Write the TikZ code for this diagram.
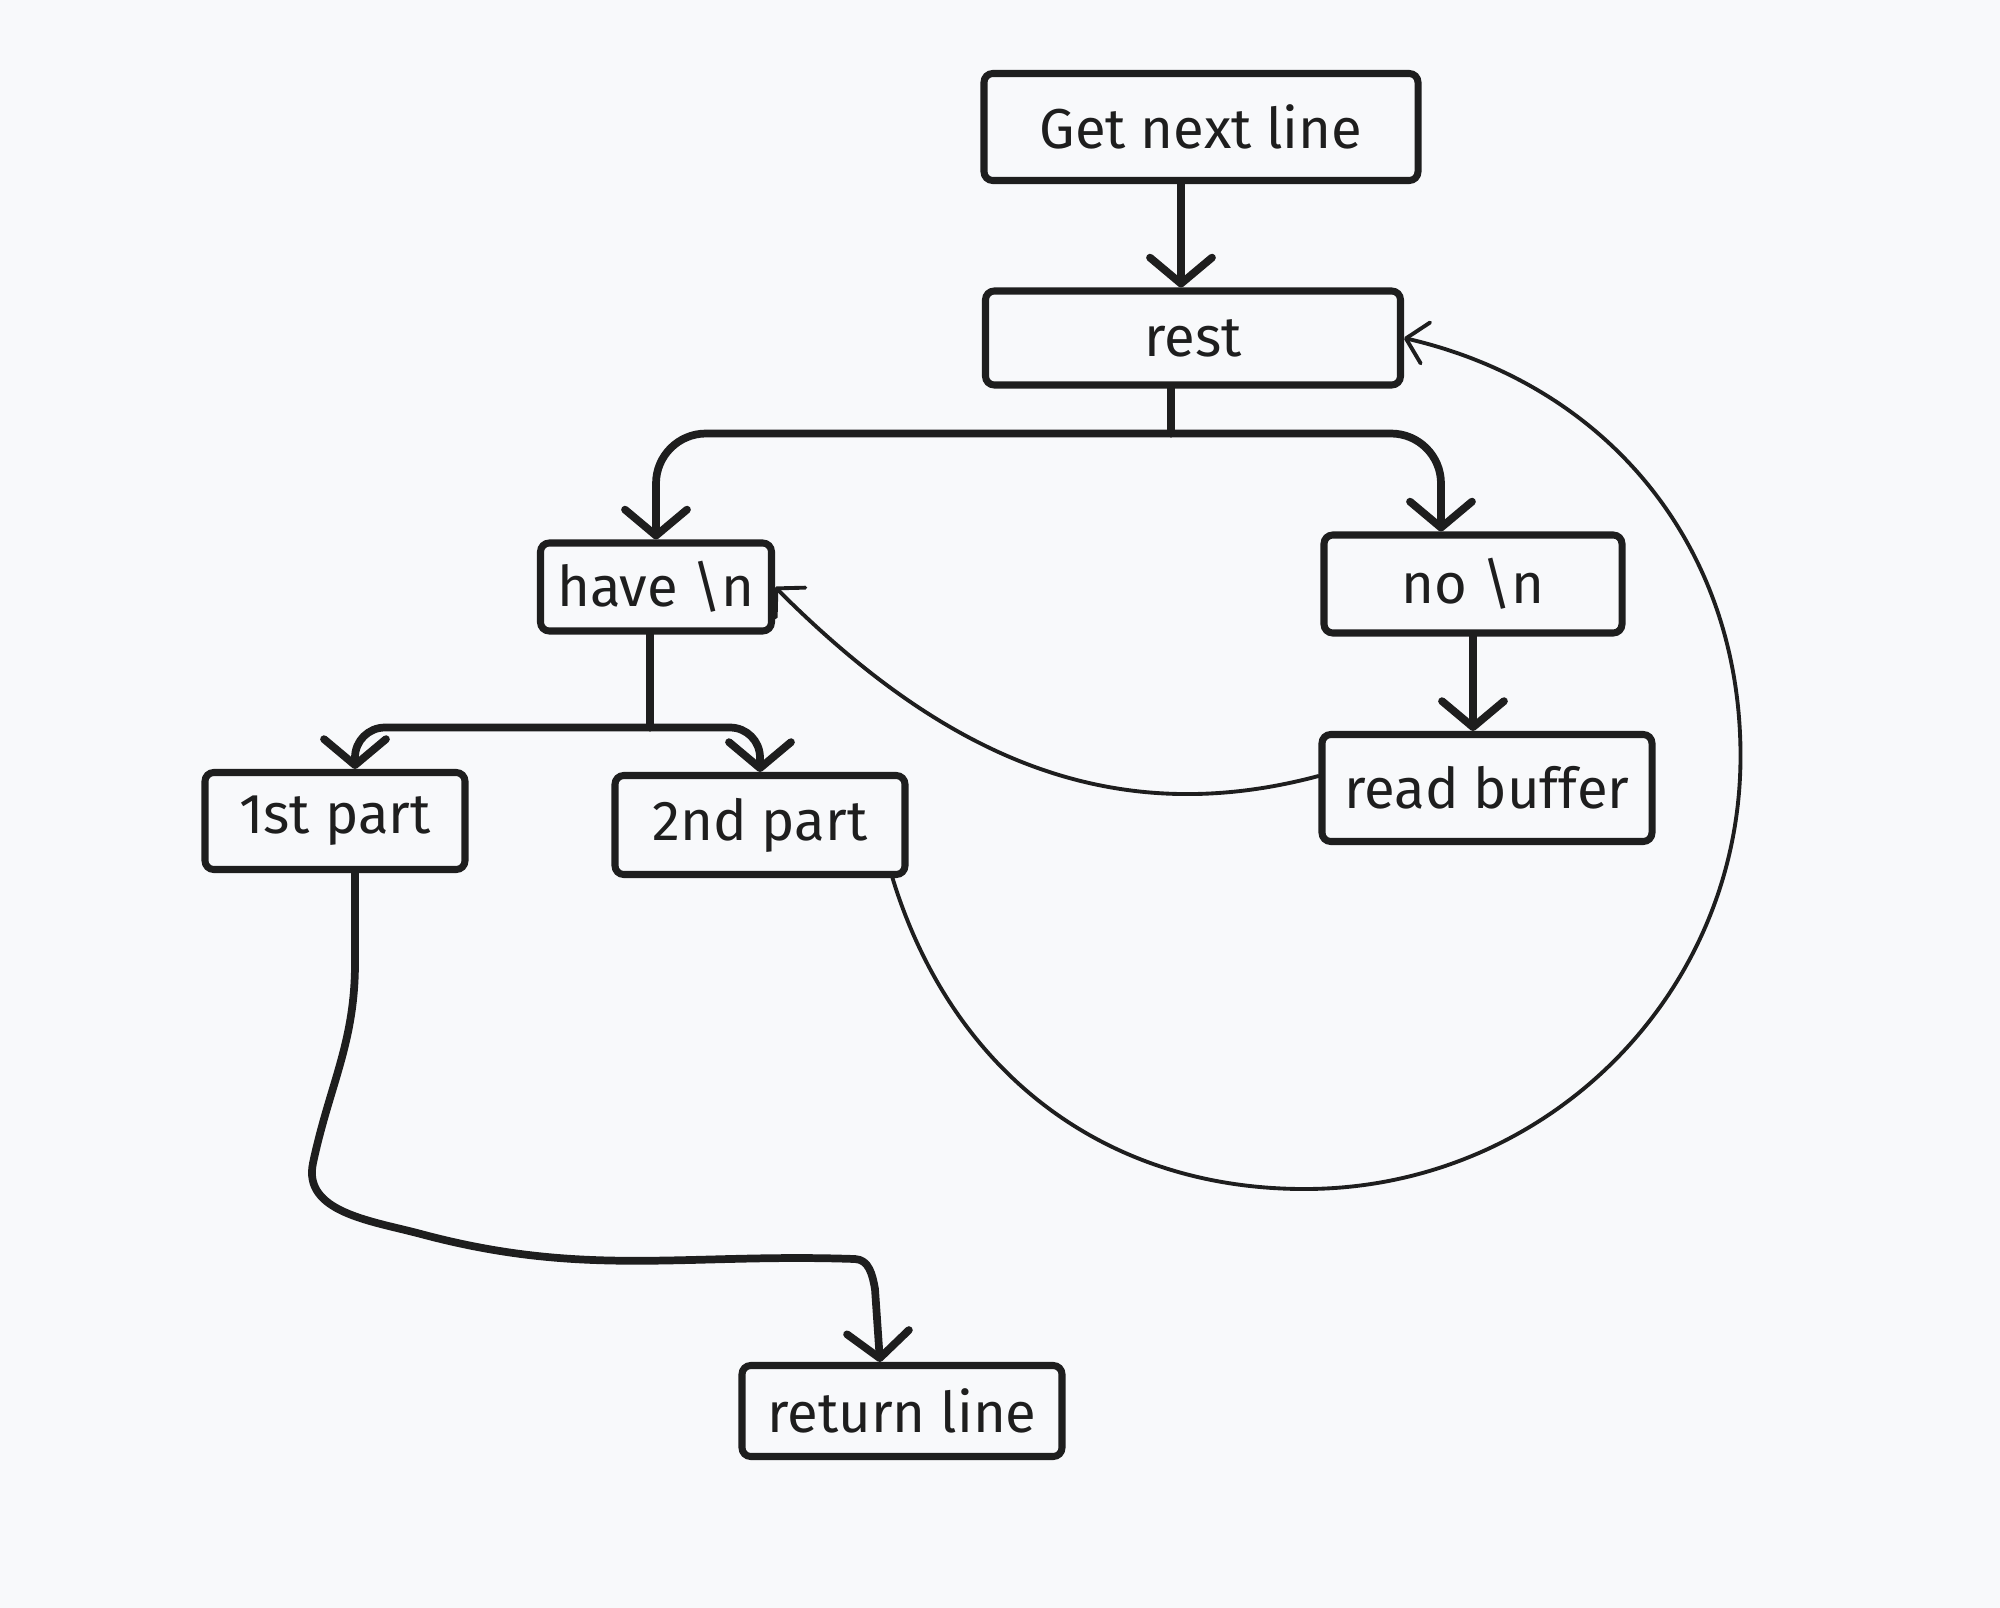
\documentclass[tikz,border=0pt]{standalone}
\usepackage{fontspec}
\setmainfont{Fira Sans}
\usepackage{tikz}
\usetikzlibrary{arrows.meta}
\definecolor{inkcol}{HTML}{1E1E1E}
\definecolor{paper}{HTML}{F8F9FB}
\tikzset{
  stepbox/.style={draw=inkcol, line width=2pt, rounded corners=2.5pt, align=center, text=inkcol, font=\fontsize{16}{19}\selectfont, inner sep=0pt},
  boldarrow/.style={draw=inkcol, line width=2.2pt, line cap=round, line join=round, -{Straight Barb[length=0.26cm, width=0.62cm, round]}},
  boldline/.style={draw=inkcol, line width=2.2pt, line cap=round, line join=round},
  thinarrow/.style={draw=inkcol, line width=1.1pt, line cap=round, -{Straight Barb[length=0.2cm, width=0.42cm, round]}}
}
\begin{document}
\begin{tikzpicture}

% Background and margins
\fill[paper] (0,0) rectangle (20,-16.08);
\useasboundingbox (0,0) rectangle (20,-16.08);

% Nodes
\node[stepbox, minimum width=4.34cm, minimum height=1.07cm] (getline) at (12.01,-1.27) {Get next line};
\node[stepbox, minimum width=4.15cm, minimum height=0.94cm] (rest) at (11.93,-3.38) {rest};
\node[stepbox, minimum width=2.31cm, minimum height=0.88cm] (have) at (6.56,-5.87) {have \textbackslash n};
\node[stepbox, minimum width=2.98cm, minimum height=0.98cm] (nonl) at (14.73,-5.84) {no \textbackslash n};
\node[stepbox, minimum width=3.30cm, minimum height=1.07cm] (readbuf) at (14.87,-7.88) {read buffer};
\node[stepbox, minimum width=2.60cm, minimum height=0.97cm] (first) at (3.35,-8.21) {1st part};
\node[stepbox, minimum width=2.90cm, minimum height=0.99cm] (second) at (7.60,-8.25) {2nd part};
\node[stepbox, minimum width=3.20cm, minimum height=0.91cm] (retline) at (9.02,-14.11) {return line};

% Connections
\draw[boldarrow] ([xshift=-0.2cm]getline.south) -- ([xshift=-0.2cm]getline.south |- rest.north);

\draw[boldline] ([xshift=-0.22cm]rest.south) -- ++(0,-0.45) coordinate (restfork);
\draw[boldarrow, rounded corners=0.5cm] (restfork) -| (have.north);
\draw[boldarrow, rounded corners=0.5cm] (restfork) -| ([xshift=-0.32cm]nonl.north);

\draw[boldarrow] (nonl.south) -- (nonl.south |- readbuf.north);
\draw[thinarrow] ([yshift=0.12cm]readbuf.west) to[out=195, in=-45] (have.east);

\draw[boldline] ([xshift=-0.06cm]have.south) -- ++(0,-0.93) coordinate (havefork);
\draw[boldarrow, rounded corners=0.3cm] (havefork) -| ([xshift=0.2cm]first.north);
\draw[boldarrow, rounded corners=0.3cm] (havefork) -| (second.north);

\draw[boldarrow] ([xshift=0.2cm]first.south) -- ++(0,-0.9) to[out=-90, in=78] ++(-0.42,-2.0)
  to[out=-102, in=165] ++(1.08,-0.71) to[out=-15, in=178] ++(4.34,-0.25)
  to[out=-2, in=100] ++(0.2,-0.3) -- ([xshift=-0.22cm]retline.north);

\draw[thinarrow] ([xshift=-0.16cm]second.south east) to[out=-73, in=180] ++(4.12,-3.11) to[out=0, in=-90] ++(4.36,4.33) to[out=90, in=-13] (rest.east);

\end{tikzpicture}
\end{document}
